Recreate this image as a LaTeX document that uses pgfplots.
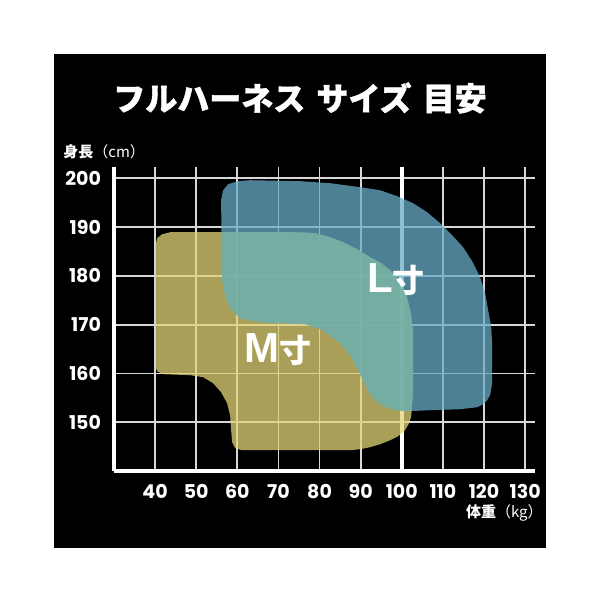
\documentclass[border=0pt]{standalone}
\usepackage{fontspec}
\usepackage{pgfplots}
\pgfplotsset{compat=1.18}
\setmainfont{Liberation Sans}
\newfontfamily\jp{Noto Sans CJK JP}
\newfontfamily\jptitle{Noto Sans CJK JP}[BoldFeatures={FakeBold=1.2}]
\newfontfamily\num{Poppins}

\definecolor{mfill}{RGB}{227,213,120}
\definecolor{lfill}{RGB}{104,171,200}
\definecolor{ofill}{RGB}{116,176,160}
\definecolor{gridc}{RGB}{215,215,215}

\begin{document}
\begin{tikzpicture}
% page and black panel (1 px = 0.5pt, axis corner at px 114,471)
\fill[white] (-57pt,-63.5pt) rectangle (242pt,235.5pt);
\fill[black] (-30pt,-38.5pt) rectangle (216pt,208.5pt);

\begin{axis}[
    at={(0,0)}, anchor=south west,
    scale only axis,
    width=210.7pt, height=152pt,
    xmin=30, xmax=132.5,
    ymin=140, ymax=202.3,
    xtick={40,50,...,130},
    ytick={150,160,...,200},
    major tick length=0pt,
    grid=major,
    grid style={gridc, line width=0.9pt},
    axis x line*=bottom, axis y line*=left,
    axis line style={white, line width=1.6pt, -},
    /pgf/number format/assume math mode=true,
    tick label style={text=white, font=\num\bfseries\fontsize{9.5}{11}\selectfont},
    yticklabel style={xshift=-3pt},
    xticklabel style={yshift=-3pt},
    clip=false,
]
% 100 kg line
\addplot[white, line width=1.8pt, mark=none] coordinates {(100,140) (100,202.3)};

% M size
\addplot[draw=none, fill=mfill, fill opacity=0.75, mark=none] coordinates {
(40.00,185.66) (40.49,187.70) (41.70,188.52) (43.65,188.93) (72.84,188.93)
(76.00,188.87) (78.92,188.73) (82.57,187.91) (85.73,186.89) (89.14,185.45)
(92.30,183.81) (94.97,182.58) (97.16,181.15) (98.87,179.51) (100.33,177.66)
(101.30,175.41) (102.03,172.95) (102.52,170.49) (102.76,167.83)
(102.76,156.56) (102.27,151.02) (101.54,149.39) (100.57,148.16) (99.11,147.13)
(97.16,146.31) (94.73,145.49) (92.30,144.88) (89.87,144.47) (87.43,144.26)
(61.16,144.26) (59.46,144.67)
(58.73,145.90) (58.49,148.36) (58.24,151.43) (57.51,153.89) (56.05,156.15)
(54.11,157.99) (51.68,159.22) (48.51,159.63) (41.95,159.84) (40.49,160.45)
(40.00,161.68)};

% L size
\addplot[draw=none, fill=lfill, fill opacity=0.75, mark=none] coordinates {
(56.05,195.49) (56.54,197.54) (57.76,198.77) (60.19,199.39) (63.11,199.59)
(75.27,199.39) (82.57,198.98) (89.87,198.16) (94.73,197.54) (98.87,196.31)
(102.76,194.88) (106.16,193.03) (109.33,190.78) (112.25,188.32) (114.92,185.86)
(117.11,182.99) (119.06,179.71) (120.27,176.43) (121.00,172.95) (121.73,169.67)
(121.98,166.19) (121.98,157.99) (121.49,155.53) (120.76,154.51) (119.79,153.69)
(118.33,153.07) (114.19,152.66)
(106.89,152.46) (101.30,152.25) (98.38,152.46) (95.46,153.28) (93.03,154.92)
(91.08,157.58) (89.38,160.66) (87.43,163.73) (85.00,166.19) (80.87,168.85)
(76.49,170.08) (65.54,170.49) (60.68,171.31) (58.24,173.36) (57.03,176.02)
(56.30,179.10)};

% overlap of M and L
\addplot[draw=none, fill=ofill, fill opacity=0.75, mark=none] coordinates {
(56.15,188.93) (72.84,188.93)
(76.00,188.87) (78.92,188.73) (82.57,187.91) (85.73,186.89) (89.14,185.45)
(92.30,183.81) (94.97,182.58) (97.16,181.15) (98.87,179.51) (100.33,177.66)
(101.30,175.41) (102.03,172.95) (102.52,170.49) (102.76,167.83)
(102.76,156.56) (102.38,152.29)
(101.30,152.25) (98.38,152.46) (95.46,153.28) (93.03,154.92)
(91.08,157.58) (89.38,160.66) (87.43,163.73) (85.00,166.19) (80.87,168.85)
(76.49,170.08) (65.54,170.49) (60.68,171.31) (58.24,173.36) (57.03,176.02)
(56.30,179.10)};

\node[text=white, inner sep=0pt, anchor=base] at (axis cs:70.0,162.2)
  {\bfseries\fontsize{21}{24}\selectfont M\jp\fontsize{16}{18}\selectfont 寸};
\node[text=white, inner sep=0pt, anchor=base] at (axis cs:98.6,176.6)
  {\bfseries\fontsize{21}{24}\selectfont L\jp\fontsize{16}{18}\selectfont 寸};
\end{axis}

\node[text=white, inner sep=0pt] at (93pt,186.5pt)
  {\jptitle\bfseries\fontsize{16}{18}\selectfont フルハーネス\hspace{0.35em}サイズ\hspace{0.35em}目安};
\node[text=white, inner sep=0pt, anchor=west] at (-25.5pt,159.5pt)
  {\jp\bfseries\fontsize{7.5}{9}\selectfont 身長{\mdseries（cm）}};
\node[text=white, inner sep=0pt, anchor=east] at (214.5pt,-21pt)
  {\jp\bfseries\fontsize{7.5}{9}\selectfont 体重{\mdseries（kg）}};
\end{tikzpicture}
\end{document}
